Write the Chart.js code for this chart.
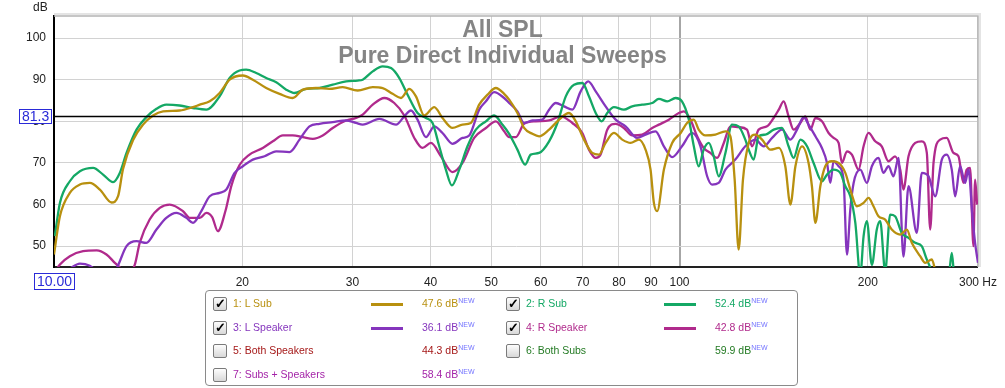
<!DOCTYPE html>
<html>
<head>
<meta charset="utf-8">
<script src="https://cdn.jsdelivr.net/npm/chart.js@4.4.1/dist/chart.umd.min.js"></script>
<style>
  body { margin: 0; background: #fff; font-family: "Liberation Sans", Arial, sans-serif; }
  #wrap { position: relative; width: 1005px; height: 388px; overflow: hidden; }
  #spl { position: absolute; left: 0; top: 0; }
  .title { position: absolute; left: 0; top: 16px; width: 1005px; text-align: center;
           font-weight: bold; font-size: 23px; line-height: 26px; color: #858585; pointer-events: none; }
  .unit { position: absolute; left: 33px; top: 0px; font-size: 12px; color: #222; }
  .cursor { position: absolute; border: 1px solid #2a2ad8; background: #fff; color: #2a2ad8;
            font-size: 14px; line-height: 13px; padding: 0 2px; }
  .legend { position: absolute; left: 205px; top: 290px; width: 591px; height: 94px;
            border: 1px solid #8a8a8a; border-radius: 4px; }
  .cb { position: absolute; width: 12px; height: 12px; border: 1px solid #7a7a7a; border-radius: 2px;
        background: linear-gradient(#fdfdfd, #d8d8d8); font-size: 13px; line-height: 12px;
        text-align: center; color: #000; font-weight: bold; }
  .lbl { position: absolute; font-size: 10.5px; line-height: 12px; white-space: nowrap; }
  .swatch { position: absolute; width: 32px; height: 2.5px; }
  .lbl sup { font-size: 7px; color: #7474ff; vertical-align: 0; position: relative; top: -4px; }
</style>
</head>
<body>
<div id="wrap">
  <canvas id="spl" width="1005" height="388"></canvas>
  <div class="title">All SPL<br>Pure Direct Individual Sweeps</div>
  <div class="unit">dB</div>
  <div class="cursor" style="left:19px; top:109px;">81.3</div>
  <div class="cursor" style="left:34px; top:273px; line-height:15px;">10.00</div>
  <div class="legend"></div>
  <div id="legendRows"></div>
</div>
<script>
// frequency axis (Hz) and level axis (dB)
const xTicks = [10, 20, 30, 40, 50, 60, 70, 80, 90, 100, 200, 300];
const yTicks = [50, 60, 70, 80, 90, 100];
const cursorDb = 81.3;

// measured curves, [Hz, dB]
const lSub = [[10.0,48],[10.22,57.2],[10.6,62.8],[11.0,64.8],[11.41,65.2],[11.84,63.6],[12.36,60.5],[12.66,62],[12.89,68.5],[13.38,75.5],[13.88,79.2],[14.4,81.4],[14.94,82.4],[15.88,82.6],[16.68,83.4],[17.1,84.0],[17.74,84.8],[18.4,86.8],[19.09,90],[20.04,91],[20.79,90],[21.84,88],[22.94,86.6],[24.08,85.6],[24.99,87.6],[26.25,88],[27.56,87.8],[28.94,88.2],[30.58,87.4],[32.32,88.2],[33.53,88],[34.78,86.6],[35.87,85.6],[36.98,87.8],[37.9,86],[39.07,81.4],[40.54,83.4],[41.79,80.8],[43.36,78.4],[44.98,79.2],[46.39,79.6],[47.83,84],[49.32,86.4],[50.86,88],[52.43,86.6],[53.41,85.2],[55.06,82],[56.43,78.4],[58.18,77],[59.63,76.4],[61.87,78],[64.19,80.4],[66.58,82],[68.24,80],[70.35,75.6],[72.52,72.4],[74.33,72],[76.18,74.8],[78.54,77.2],[80.98,75.6],[83.5,74.8],[86.1,75.6],[88.24,73.2],[89.88,68.4],[90.99,60.4],[92.1,58.4],[94.41,68.4],[97.32,74.8],[100.4,77.2],[102.8,79.6],[105.4,80.4],[107.3,78],[110,76.6],[114.1,76.8],[118.4,77.6],[120.6,76.4],[122.5,66],[124.3,49.2],[126.3,66],[129,74.8],[132.2,76.8],[135.5,75.6],[139.7,73.2],[144.1,73.6],[147.6,69.2],[150.4,60],[153.2,69.2],[157,74],[160.8,70],[162.8,64.4],[164.9,55.6],[167.9,64.4],[171,69.2],[175.2,70.4],[179.6,70],[184.1,67.6],[187.5,63.6],[192.1,59.6],[196.9,60.4],[200.5,61.6],[204.2,59.6],[208,57.2],[213.2,56.4],[218.4,54],[225.3,52.8],[230.9,54],[235.1,50.8],[242.5,47.6],[247,46],[253.1,46.8],[257.8,43],[270,42],[300,40]];

const rSub = [[10.03,52.4],[10.22,60.4],[10.6,65.6],[11.0,68],[11.55,68.8],[11.98,67.2],[12.43,65.4],[12.74,67.6],[13.06,72.4],[13.55,78],[14.05,81],[14.58,83],[15.12,84],[15.88,83.8],[16.68,83.2],[17.52,82.8],[18.4,86],[19.09,90.4],[19.8,92.2],[20.29,92.4],[21.05,91.6],[21.84,90.4],[22.66,89.4],[23.51,87.6],[24.24,86.8],[25.3,87.8],[26.57,88],[27.9,88.8],[29.31,89.6],[30.58,89.8],[31.15,90],[32.32,92],[33.53,93.2],[34.58,92.8],[35.65,90.4],[36.75,86.4],[38.12,82],[39.32,80.8],[40.29,79.6],[41.29,74],[42.31,68.4],[43.26,64.6],[44.45,68.4],[45.82,74],[47.25,78],[49.03,80],[50.54,81.4],[52.11,79.2],[53.41,77],[55.06,73.2],[56.64,69.6],[57.83,72],[59.63,72.4],[61.87,75.2],[63.79,79.6],[65.79,86],[67.82,88.8],[69.92,89.2],[71.64,86],[73.45,82],[75.07,80],[76.64,82],[78.54,83.4],[81.48,82.8],[84.01,83.6],[87.15,84],[90.42,84.4],[92.68,85.4],[95.55,84.8],[98.54,85.6],[100.9,84.8],[103.5,80.4],[105.4,74],[107.3,69.2],[109.3,73.2],[111.4,74.8],[113.4,71.6],[115.5,66.8],[118.4,72.4],[121.3,79.2],[124.3,78.8],[127.4,75.6],[129,73.2],[131.4,70.8],[133.8,76.4],[137.2,76.8],[141.4,78],[145.8,78.4],[149.4,74],[152.2,71.2],[156,75.6],[159.9,74],[163.8,70],[168.9,65.6],[172.1,67.2],[176.3,68.4],[180.7,67.6],[184.1,64.4],[187.5,62],[191,55.6],[194.5,43],[196.9,52.4],[199.3,56],[203,45.5],[206.7,54],[209.3,56],[213.2,44],[217.1,57.6],[221.1,57.2],[226.6,53.2],[232.3,52],[238.1,50.8],[243.9,50],[248.5,46.8],[254.7,43.5],[265,42],[270,44],[272.4,48.4],[275,43],[300,40]];

const lSpeaker = [[10.0,42],[10.6,44.6],[11.0,45.8],[11.41,45.3],[11.84,43.5],[12.36,42.5],[12.66,45.4],[13.06,50],[13.55,51.2],[14.05,50.8],[14.58,54],[15.12,56.8],[15.69,58],[16.28,56.8],[16.68,55.6],[17.2,58.4],[17.74,62],[18.4,62.8],[18.86,63.6],[19.44,67.6],[20.04,69.2],[20.79,70.8],[21.71,71.6],[22.66,72.8],[23.79,72.6],[24.69,75.6],[25.61,78.8],[26.57,79.4],[27.9,79.8],[29.31,80.2],[30.4,79.6],[31.15,79.2],[33.13,80.6],[35.22,79.2],[36.31,81.2],[37.21,82.6],[38.12,80.4],[39.32,76.2],[40.54,78.8],[41.79,77.2],[43.36,74.6],[44.98,76],[46.11,76.6],[47.83,82.8],[49.03,84.8],[50.54,87],[52.43,85.6],[53.41,84.4],[55.06,82.4],[56.43,79.6],[58.18,80.2],[60.35,80.4],[61.87,82.8],[63.41,84.4],[65.38,83.6],[67.4,82.8],[69.5,87.2],[71.46,89.6],[73.45,87.2],[76.18,83.6],[79.04,80.4],[81.99,78.8],[85.56,76],[88.24,76.8],[91.55,77.6],[94.41,74],[97.32,71.4],[100.9,74],[104.7,77.2],[108,74],[110.7,66.8],[112.7,64.8],[115.5,65.2],[118.4,68.4],[122.8,70.8],[127.4,74],[132.2,75.6],[136.3,74],[140.6,76],[145.8,78],[150.4,75.6],[154.1,78],[157.9,81],[160.8,79.2],[164.9,76.4],[168.9,73.6],[172.1,70],[174.2,65.2],[176.3,70.4],[179.6,69.2],[182.9,66],[185.2,48],[187.5,58.8],[189.8,65.2],[194.5,68.4],[199.3,65.2],[203,69.2],[208,71.2],[211.8,67.6],[215.8,69.2],[219.8,66.8],[223.9,71.2],[228,47.5],[232.3,64.4],[239.5,53.2],[243.9,67.6],[250,66.8],[256.3,62],[262.6,70.8],[267.4,72],[272.4,68.4],[275.8,62],[280.9,69.2],[286.1,65.2],[289.6,68.4],[293.9,57.2],[296.8,50.8],[300,46]];

const rSpeaker = [[10.05,44],[10.22,45.6],[10.6,47.6],[11.13,48.8],[11.7,49],[12.13,48],[12.51,46],[12.8,44.6],[13.1,43],[13.46,45.5],[13.71,50.8],[14.22,56.4],[14.76,59.2],[15.31,60],[16.08,58.4],[16.48,56.8],[17.1,56.8],[17.52,58],[17.9,57],[18.28,53.6],[18.8,58.5],[19.21,64.5],[19.8,69.5],[20.54,72],[21.57,73.6],[22.38,75.2],[23.22,76.6],[24.08,76.6],[24.99,76.2],[25.93,75.8],[26.89,76.6],[27.9,78.4],[29.31,80.2],[30.4,80.8],[31.15,81.6],[32.32,84],[33.74,85.6],[34.99,84.4],[36.31,81.4],[37.67,76],[38.83,73.6],[40.05,74.8],[41.55,71.6],[43.36,67.8],[44.98,70],[46.96,76],[49.03,78.4],[50.86,80],[52.43,77.6],[53.41,76.2],[54.74,76.2],[56.43,79.4],[58.9,80],[61.87,80.2],[64.59,81.2],[67.4,79.6],[69.92,77.2],[71.64,73.2],[73.45,71.2],[74.79,72],[76.64,78],[79.04,79.4],[81.48,78.4],[84.01,76.6],[87.15,76.8],[90.42,78.4],[92.68,79.2],[96.14,80.4],[99.75,82],[101.6,82.4],[104.1,80.4],[106.7,76.4],[109.3,73.6],[112,72.4],[114.8,71.2],[117.7,74.8],[120.6,78.8],[124.3,78.6],[128.2,78],[130.6,74],[133.8,78],[138,78.8],[141.4,80.8],[144.1,82.8],[146.7,84.8],[149.4,81.2],[152.2,78],[156,79.6],[158.9,81.2],[161.9,78],[164.9,80.8],[168.9,80],[173.1,77.2],[176.3,76],[179.6,74.8],[181.8,70],[185.2,72.8],[188.6,72],[193.3,68.4],[196.9,74],[200.5,77.2],[205.5,75.2],[210.5,74],[215.8,70.4],[221.1,71.6],[225.3,68.4],[228,63.6],[232.3,71.6],[238.1,74.8],[243.9,75.2],[248.5,72.4],[251.6,54],[254.7,70],[261,75.6],[267.4,76],[274.1,72.4],[279.2,71.6],[284.3,65.2],[287.8,68.4],[291.4,68.8],[295,50],[296.8,66],[299,60]];

// legend entries: label, level, colour, shown
const legendNames = ['1: L Sub', '2: R Sub', '3: L Speaker', '4: R Speaker', '5: Both Speakers', '6: Both Subs', '7: Subs + Speakers'];
const legendLevels = ['47.6', '52.4', '36.1', '42.8', '44.3', '59.9', '58.4'];
const legendColors = ['#b8900f', '#14a865', '#8535bd', '#b02a8c', '#a51818', '#237a23', '#a423a8'];
const legendShown = [true, true, true, true, false, false, false];

const series = [lSub, rSub, lSpeaker, rSpeaker];

// legend rows
const rowsEl = document.getElementById('legendRows');
const rowY = [304, 328, 351, 374.5];
legendNames.forEach((name, i) => {
    const col = i % 2, row = Math.floor(i / 2);
    const dx = col * 293, cy = rowY[row];
    let html = '<div class="cb" style="left:' + (213 + dx) + 'px;top:' + (cy - 7) + 'px">' + (legendShown[i] ? '&#10003;' : '') + '</div>';
    html += '<div class="lbl" style="left:' + (233 + dx) + 'px;top:' + (cy - 7) + 'px;color:' + legendColors[i] + '">' + name + '</div>';
    if (legendShown[i]) {
        html += '<div class="swatch" style="left:' + (371 + dx) + 'px;top:' + (cy - 1) + 'px;background:' + legendColors[i] + '"></div>';
    }
    html += '<div class="lbl" style="left:' + (422 + dx) + 'px;top:' + (cy - 7) + 'px;color:' + legendColors[i] + '">' + legendLevels[i] + ' dB<sup>NEW</sup></div>';
    rowsEl.insertAdjacentHTML('beforeend', html);
});

// frame on top/right and the cursor line
const framePlugin = {
    id: 'frame',
    beforeDatasetsDraw(chart) {
        const { ctx, chartArea: a } = chart;
        ctx.save();
        ctx.strokeStyle = '#e4e4e4';
        ctx.lineWidth = 2;
        ctx.beginPath();
        ctx.moveTo(a.left, a.top - 2); ctx.lineTo(a.right + 2, a.top - 2); ctx.lineTo(a.right + 2, a.bottom);
        ctx.stroke();
        ctx.strokeStyle = '#b4b4b4';
        ctx.lineWidth = 1.5;
        ctx.beginPath();
        ctx.moveTo(a.left, a.top); ctx.lineTo(a.right, a.top); ctx.lineTo(a.right, a.bottom);
        ctx.stroke();
        ctx.restore();
    },
    afterDatasetsDraw(chart) {
        const { ctx, chartArea: a, scales } = chart;
        const y = Math.round(scales.y.getPixelForValue(cursorDb)) + 0.5;
        ctx.save();
        ctx.strokeStyle = '#000';
        ctx.lineWidth = 1.3;
        ctx.beginPath();
        ctx.moveTo(a.left, y); ctx.lineTo(a.right, y);
        ctx.stroke();
        ctx.restore();
    }
};

Chart.defaults.font.family = '"Liberation Sans", Arial, sans-serif';

new Chart(document.getElementById('spl').getContext('2d'), {
    type: 'line',
    data: {
        datasets: series.map((pts, i) => ({
            label: legendNames[i],
            data: pts.map(p => ({ x: p[0], y: p[1] })),
            borderColor: legendColors[i],
            borderWidth: 2.3,
            pointRadius: 0,
            fill: false,
            cubicInterpolationMode: 'monotone',
            clip: 0
        }))
    },
    options: {
        responsive: false,
        animation: false,
        layout: { padding: { top: 16, right: 25, left: 0, bottom: 0 } },
        plugins: { legend: { display: false }, tooltip: { enabled: false } },
        scales: {
            x: {
                type: 'logarithmic',
                min: 10,
                max: 300,
                afterBuildTicks: s => { s.ticks = xTicks.map(v => ({ value: v })); },
                afterFit: s => { s.height = 121; },
                ticks: {
                    autoSkip: false,
                    maxRotation: 0,
                    padding: 8,
                    color: '#222',
                    font: { size: 12 },
                    callback: v => v === 10 ? '' : (v === 300 ? '300 Hz' : String(v))
                },
                grid: {
                    drawTicks: false,
                    color: c => c.tick && c.tick.value === 100 ? '#a6a6a6' : '#d2d2d2',
                    lineWidth: c => c.tick && c.tick.value === 100 ? 2 : 1
                },
                border: { color: '#222', width: 2 }
            },
            y: {
                min: 45,
                max: 105.3,
                afterBuildTicks: s => { s.ticks = yTicks.map(v => ({ value: v })); },
                afterFit: s => { s.width = 54; },
                ticks: { padding: 8, color: '#222', font: { size: 12 } },
                grid: { drawTicks: false, color: '#d2d2d2', lineWidth: 1 },
                border: { color: '#000', width: 2 }
            }
        }
    },
    plugins: [framePlugin]
});
</script>
</body>
</html>
